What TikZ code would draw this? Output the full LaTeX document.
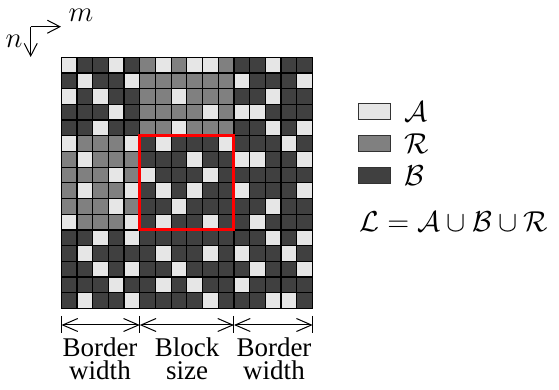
\documentclass[tikz,border=0pt]{standalone}
\usepackage{fontspec}
\setmainfont{Liberation Serif}
\usetikzlibrary{arrows.meta}

\definecolor{cellA}{HTML}{E6E6E6}
\definecolor{cellR}{HTML}{808080}
\definecolor{cellB}{HTML}{404040}

\tikzset{
  cell/.style={draw=black, line width=0.6pt},
  cellL/.style={cell, fill=cellA},
  cellR/.style={cell, fill=cellR},
  cellD/.style={cell, fill=cellB},
  keybox/.style={draw=black!80, line width=0.5pt, minimum width=16pt, minimum height=8pt, inner sep=0pt},
  lbl/.style={inner sep=0pt, font=\fontsize{13.5}{11.5}\selectfont},
  axis/.style={line width=0.5pt, -{Straight Barb[length=6.3pt, width=6.5pt]}},
  dim/.style={line width=0.5pt, {Straight Barb[length=7.5pt, width=6.5pt]}-{Straight Barb[length=7.5pt, width=6.5pt]}},
  tick/.style={line width=0.5pt}
}

\begin{document}
\begin{tikzpicture}[x=0.5pt, y=-0.5pt]
  \useasboundingbox (0,0) rectangle (559,390);

  % 16 x 16 lattice, row by row (L = A, R = R, D = B)
  \def\cs{15.7}
  \foreach \rowpat [count=\r from 0] in {
    {L,D,D,L,D,R,L,R,L,L,R,D,D,L,D,D},
    {D,L,D,D,L,R,R,R,R,R,R,L,D,D,D,L},
    {L,D,L,D,D,R,R,L,R,R,R,D,D,L,D,D},
    {D,D,D,L,D,R,R,R,R,L,R,L,L,D,D,D},
    {D,D,L,D,D,R,R,L,R,R,R,D,D,L,D,L},
    {L,R,R,R,L,D,L,D,D,D,L,D,D,D,L,D},
    {R,L,R,R,R,D,D,D,L,D,D,L,L,D,D,L},
    {R,R,R,L,R,L,D,D,D,L,D,D,D,D,D,D},
    {R,L,R,R,L,D,L,D,L,D,D,L,D,D,D,L},
    {R,R,R,L,R,D,D,L,D,D,D,D,D,L,D,D},
    {L,R,R,R,L,D,L,D,D,L,D,D,L,D,D,D},
    {D,D,L,D,L,D,D,D,D,D,D,D,D,L,D,L},
    {D,L,D,D,D,D,L,D,D,L,D,L,D,D,L,D},
    {D,D,L,D,L,D,D,L,D,D,D,D,L,D,D,L},
    {D,D,D,L,D,D,L,D,L,D,D,L,D,D,D,D},
    {D,L,D,D,L,D,D,D,D,L,D,D,D,L,L,D}} {
    \foreach \c [count=\k from 0] in \rowpat {
      \draw[cell\c] ({61.3+\k*\cs},{57.3+\r*\cs}) rectangle ++(\cs,\cs);
    }
  }

  % central block
  \draw[red, line width=1.5pt] ({61.3+5*\cs},{57.3+5*\cs}) rectangle ++({6*\cs},{6*\cs});

  % index directions
  \coordinate (o) at (30.7,26.7);
  \coordinate (mEnd) at (61,26.7);
  \coordinate (nEnd) at (30.7,57);
  \draw[axis] (o) -- (mEnd);
  \draw[axis] (o) -- (nEnd);
  \node[lbl] (mlab) at (81,15) {$m$};
  \node[lbl] (nlab) at (14,41) {$n$};

  % dimension marks below the lattice
  \coordinate (t0) at (61.5,316);
  \coordinate (t1) at ({61.3+5*\cs},316);
  \coordinate (t2) at ({61.3+11*\cs},316);
  \coordinate (t3) at (312.7,316);
  \foreach \t in {t0,t1,t2,t3} {
    \draw[tick] (\t) -- ++(0,17);
  }
  \coordinate (d0) at ([yshift=-4.5pt]t0);
  \coordinate (d1) at ([yshift=-4.5pt]t1);
  \coordinate (d2) at ([yshift=-4.5pt]t2);
  \coordinate (d3) at ([yshift=-4.5pt]t3);
  \draw[dim] (d0) -- (d1);
  \draw[dim] (d1) -- (d2);
  \draw[dim] (d2) -- (d3);

  % the base anchor of a two-line node sits on its last line
  \node[lbl, align=center, anchor=base] (bw1) at (100,380) {Border\\width};
  \node[lbl, align=center, anchor=base] (bs)  at (187,380) {Block\\size};
  \node[lbl, align=center, anchor=base] (bw2) at (274,380) {Border\\width};

  % legend
  \node[keybox, fill=cellA] (kA) at (375,112) {};
  \node[keybox, fill=cellR] (kR) at (375,143.7) {};
  \node[keybox, fill=cellB] (kB) at (375,175.3) {};
  \node[lbl, anchor=west] (lA) at (404,112) {$\mathcal{A}$};
  \node[lbl, anchor=west] (lR) at (404,143.7) {$\mathcal{R}$};
  \node[lbl, anchor=west] (lB) at (404,175.3) {$\mathcal{B}$};
  \node[lbl, anchor=base west] (eq) at (359,231.7) {$\mathcal{L} = \mathcal{A} \cup \mathcal{B} \cup \mathcal{R}$};
\end{tikzpicture}
\end{document}
